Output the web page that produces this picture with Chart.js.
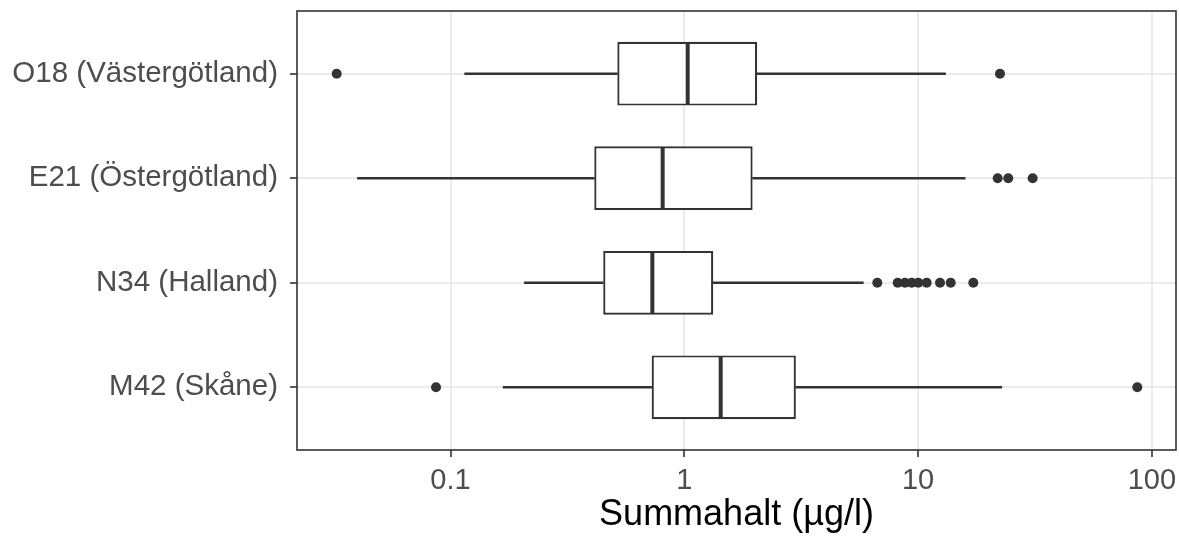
<!DOCTYPE html>
<html>
<head>
<meta charset="utf-8">
<script src="https://cdn.jsdelivr.net/npm/chart.js@4/dist/chart.umd.min.js"></script>
<style>
  html, body { margin: 0; padding: 0; background: #ffffff; }
  #wrap { width: 1179px; height: 540px; }
</style>
</head>
<body>
<div id="wrap"><canvas id="c" width="1179" height="540"></canvas></div>
<script>
// ---- Data ----
const categories = ['O18 (Västergötland)', 'E21 (Östergötland)', 'N34 (Halland)', 'M42 (Skåne)'];
const whiskerLow  = [0.115, 0.040, 0.207, 0.168];
const q1          = [0.517, 0.412, 0.450, 0.725];
const median      = [1.034, 0.808, 0.730, 1.431];
const q3          = [2.05, 1.96, 1.33, 3.00];
const whiskerHigh = [13.1, 15.9, 5.83, 22.8];
const outliersO18 = [0.0326, 22.4];
const outliersE21 = [21.9, 24.3, 30.9];
const outliersN34 = [6.69, 8.18, 8.79, 9.39, 10.02, 10.88, 12.41, 13.79, 17.22];
const outliersM42 = [0.0867, 86.6];
const xTickValues = [0.1, 1, 10, 100];
const xTitle = 'Summahalt (µg/l)';

const outlierLists = [outliersO18, outliersE21, outliersN34, outliersM42];

// ---- Build datasets ----
const dark = '#333333';
const boxData = categories.map((c, i) => ({ y: i, x: [q1[i], q3[i]] }));
const lowWhiskerData = categories.map((c, i) => ({ y: i, x: [whiskerLow[i], q1[i]] }));
const highWhiskerData = categories.map((c, i) => ({ y: i, x: [q3[i], whiskerHigh[i]] }));
const medianData = categories.map((c, i) => ({ y: i, x: median[i] }));
const outlierData = [];
outlierLists.forEach((list, i) => list.forEach(v => outlierData.push({ y: i, x: v })));

const fontFamily = '"Liberation Sans", Arial, Helvetica, sans-serif';

const panelBorder = {
  id: 'panelBorder',
  afterDatasetsDraw(chart) {
    const a = chart.chartArea, ctx = chart.ctx;
    ctx.save();
    ctx.strokeStyle = dark;
    ctx.lineWidth = 1.6;
    ctx.strokeRect(a.left, a.top, a.right - a.left, a.bottom - a.top);
    ctx.restore();
  }
};

new Chart(document.getElementById('c'), {
  type: 'bar',
  data: {
    datasets: [
      {
        type: 'scatter', label: 'outliers', data: outlierData, order: 1,
        pointRadius: 5, pointBackgroundColor: dark, pointBorderWidth: 0,
        pointHoverRadius: 5
      },
      {
        type: 'scatter', label: 'median', data: medianData, order: 2,
        pointStyle: 'line', pointRotation: 90, pointRadius: 31, pointHoverRadius: 31,
        pointBorderColor: dark, pointBorderWidth: 4
      },
      {
        type: 'bar', label: 'box', data: boxData, order: 3, indexAxis: 'y', grouped: false,
        backgroundColor: '#ffffff', borderColor: dark, borderWidth: 2.2, borderSkipped: false,
        categoryPercentage: 1, barPercentage: 0.61
      },
      {
        type: 'bar', label: 'lowWhisker', data: lowWhiskerData, order: 4, indexAxis: 'y', grouped: false,
        backgroundColor: dark, borderWidth: 0, barThickness: 1.7
      },
      {
        type: 'bar', label: 'highWhisker', data: highWhiskerData, order: 4, indexAxis: 'y', grouped: false,
        backgroundColor: dark, borderWidth: 0, barThickness: 1.7
      }
    ]
  },
  options: {
    responsive: false,
    devicePixelRatio: 1,
    animation: false,
    layout: { autoPadding: false, padding: { left: 0, right: 3, top: 11, bottom: 0 } },
    plugins: { legend: { display: false }, tooltip: { enabled: false } },
    scales: {
      x: {
        type: 'logarithmic',
        position: 'bottom',
        offset: false,
        min: 0.02205,
        max: 126.8,
        afterBuildTicks(scale) { scale.ticks = xTickValues.map(v => ({ value: v })); },
        afterFit(scale) {
          scale.height = 90;
          scale.paddingLeft = 0; scale.paddingRight = 0;
        },
        grid: { offset: false, color: '#ebebeb', lineWidth: 2, drawTicks: true, tickLength: 7, tickColor: dark, tickWidth: 1.6 },
        border: { display: false },
        ticks: {
          autoSkip: false, maxRotation: 0, padding: 7,
          color: '#4d4d4d', font: { family: fontFamily, size: 29 },
          callback: (v) => String(v)
        },
        title: {
          display: true, text: xTitle, color: '#000000',
          font: { family: fontFamily, size: 36 }, padding: { top: 0, bottom: 3 }
        }
      },
      y: {
        type: 'linear',
        reverse: true,
        offset: false,
        min: -0.6,
        max: 3.6,
        afterBuildTicks(scale) { scale.ticks = categories.map((c, i) => ({ value: i })); },
        afterFit(scale) {
          scale.width = 297;
          scale.paddingTop = 0; scale.paddingBottom = 0;
        },
        grid: { offset: false, color: '#ebebeb', lineWidth: 2, drawTicks: true, tickLength: 7, tickColor: dark, tickWidth: 1.6 },
        border: { display: false },
        ticks: {
          autoSkip: false, padding: 12,
          color: '#4d4d4d', font: { family: fontFamily, size: 29.5 },
          callback: (v) => categories[v] !== undefined ? categories[v] : ''
        }
      }
    }
  },
  plugins: [panelBorder]
});
</script>
</body>
</html>
